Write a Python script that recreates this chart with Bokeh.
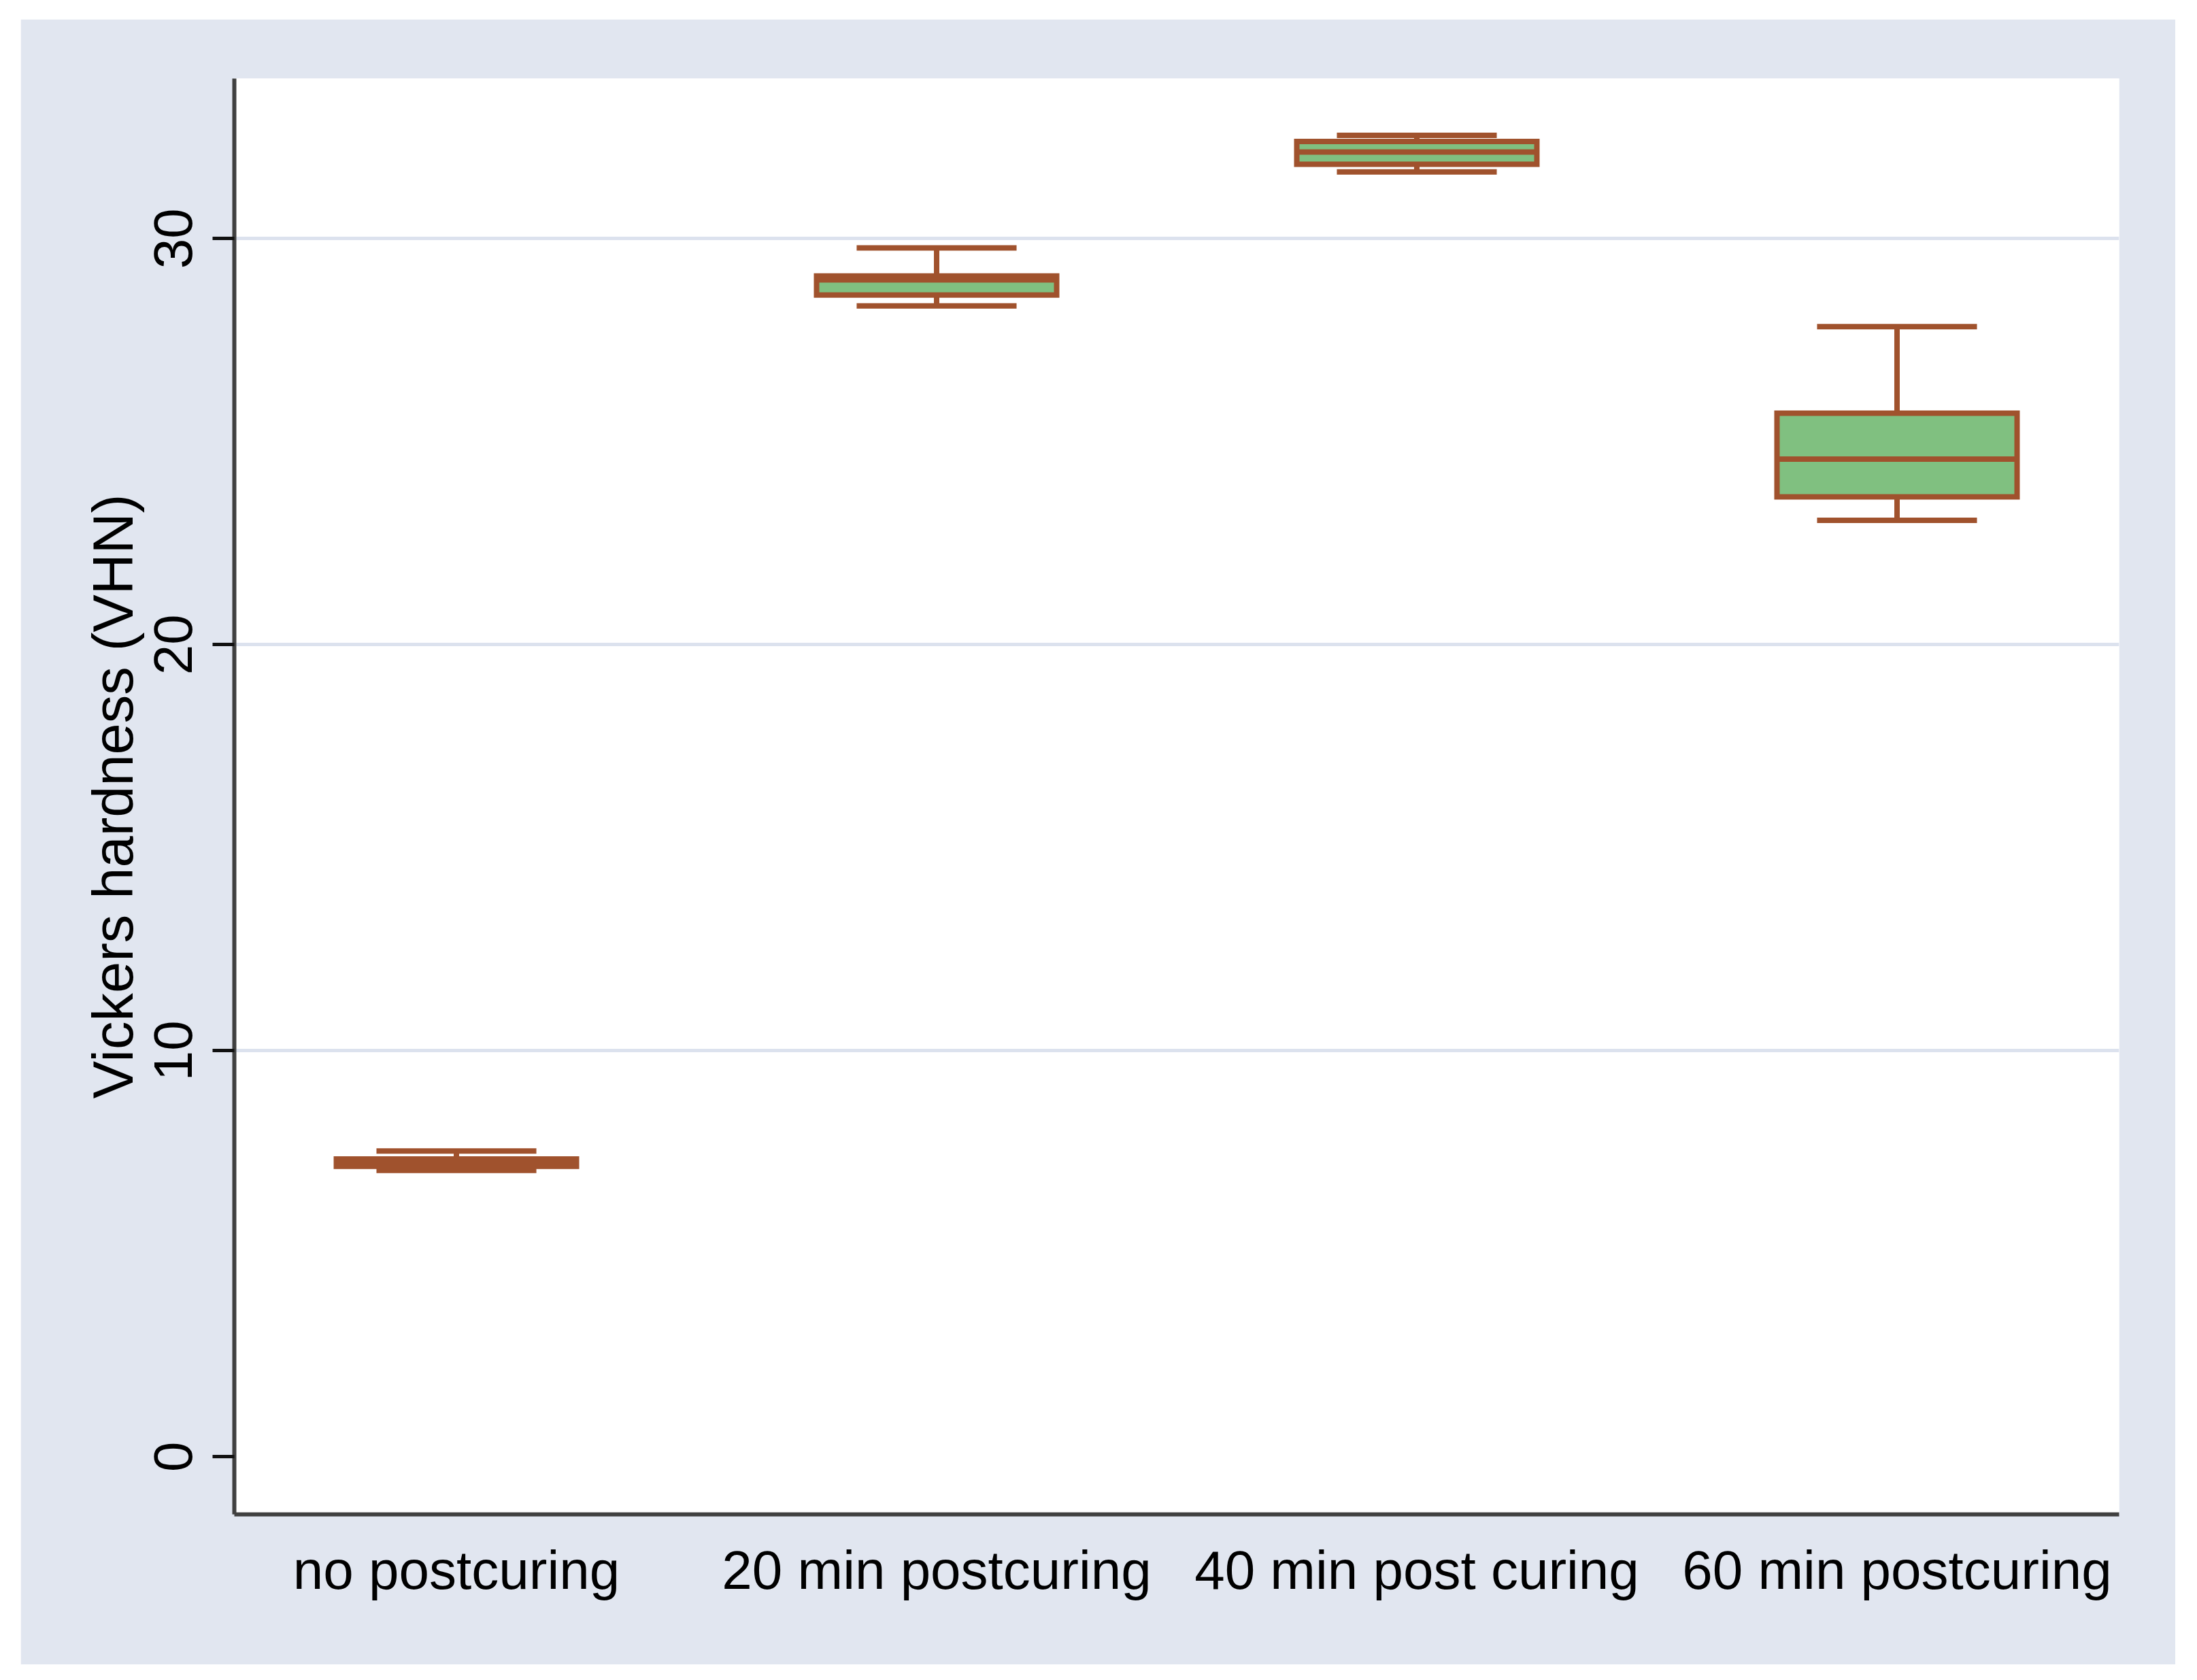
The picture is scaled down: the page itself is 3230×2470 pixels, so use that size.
from bokeh.plotting import figure
from bokeh.models import Range1d, FixedTicker, ColumnDataSource
from bokeh.embed import file_html
from bokeh.resources import INLINE

# ---- data ----
categories = ["no postcuring", "20 min postcuring", "40 min post curing", "60 min postcuring"]
positions = [1, 2, 3, 4]
lower_whisker = [7.05, 28.34, 31.64, 23.06]
q1 = [7.15, 28.61, 31.83, 23.64]
median = [7.25, 28.98, 32.13, 24.57]
q3 = [7.33, 29.08, 32.39, 25.70]
upper_whisker = [7.53, 29.77, 32.54, 27.83]
y_ticks = [0, 10, 20, 30]
grid_ticks = [10, 20, 30]

# ---- style ----
BG = "#E1E6F0"
OUTLINE = "#A0522D"
FILL = "#80C080"
FONT = "Liberation Sans"
BOX_HALF = 0.25
CAP_HALF = 0.1665
LW = 8

p = figure(width=3168, height=2419, output_backend="svg", toolbar_location=None,
           x_range=Range1d(0.5375, 4.4625), y_range=Range1d(-1.42, 33.94),
           min_border_left=314, min_border_right=83, min_border_top=87,
           min_border_bottom=221)
p.margin = (28, 0, 0, 30)
p.border_fill_color = BG
p.background_fill_color = "white"
p.outline_line_color = None

src = ColumnDataSource(dict(
    x=positions,
    left=[x - BOX_HALF for x in positions],
    right=[x + BOX_HALF for x in positions],
    cl=[x - CAP_HALF for x in positions],
    cr=[x + CAP_HALF for x in positions],
    lw=lower_whisker, q1=q1, med=median, q3=q3, uw=upper_whisker,
))

# whiskers
p.segment(x0="x", y0="q3", x1="x", y1="uw", source=src, line_color=OUTLINE, line_width=LW)
p.segment(x0="x", y0="q1", x1="x", y1="lw", source=src, line_color=OUTLINE, line_width=LW)
# caps
p.segment(x0="cl", y0="uw", x1="cr", y1="uw", source=src, line_color=OUTLINE, line_width=LW)
p.segment(x0="cl", y0="lw", x1="cr", y1="lw", source=src, line_color=OUTLINE, line_width=LW)
# boxes
p.quad(left="left", right="right", bottom="q1", top="q3", source=src,
       fill_color=FILL, line_color=OUTLINE, line_width=LW, line_join="miter")
# medians
p.segment(x0="left", y0="med", x1="right", y1="med", source=src, line_color=OUTLINE, line_width=LW)

# grid
p.xgrid.visible = False
p.ygrid.ticker = FixedTicker(ticks=grid_ticks)
p.ygrid.grid_line_color = "#DCE2EE"
p.ygrid.grid_line_width = 5

# y axis
ya = p.yaxis[0]
ya.ticker = FixedTicker(ticks=y_ticks)
ya.axis_label = "Vickers hardness (VHN)"
ya.axis_label_text_font = FONT
ya.axis_label_text_font_size = "83px"
ya.axis_label_text_font_style = "normal"
ya.axis_label_text_color = "black"
ya.axis_label_standoff = 12
ya.major_label_text_font = FONT
ya.major_label_text_font_size = "80px"
ya.major_label_text_color = "black"
ya.major_label_orientation = "vertical"
ya.major_label_standoff = 30
ya.major_tick_out = 32
ya.major_tick_in = 0
ya.major_tick_line_width = 5
ya.major_tick_line_color = "#111111"
ya.minor_tick_line_color = None
ya.axis_line_color = "#404040"
ya.axis_line_width = 6

# x axis
xa = p.xaxis[0]
xa.ticker = FixedTicker(ticks=positions)
xa.major_label_overrides = {pos: cat for pos, cat in zip(positions, categories)}
xa.major_label_text_font = FONT
xa.major_label_text_font_size = "80px"
xa.major_label_text_color = "black"
xa.major_label_standoff = 31
xa.major_tick_line_color = None
xa.minor_tick_line_color = None
xa.axis_line_color = "#404040"
xa.axis_line_width = 6

open("out.html", "w").write(file_html(p, INLINE))
